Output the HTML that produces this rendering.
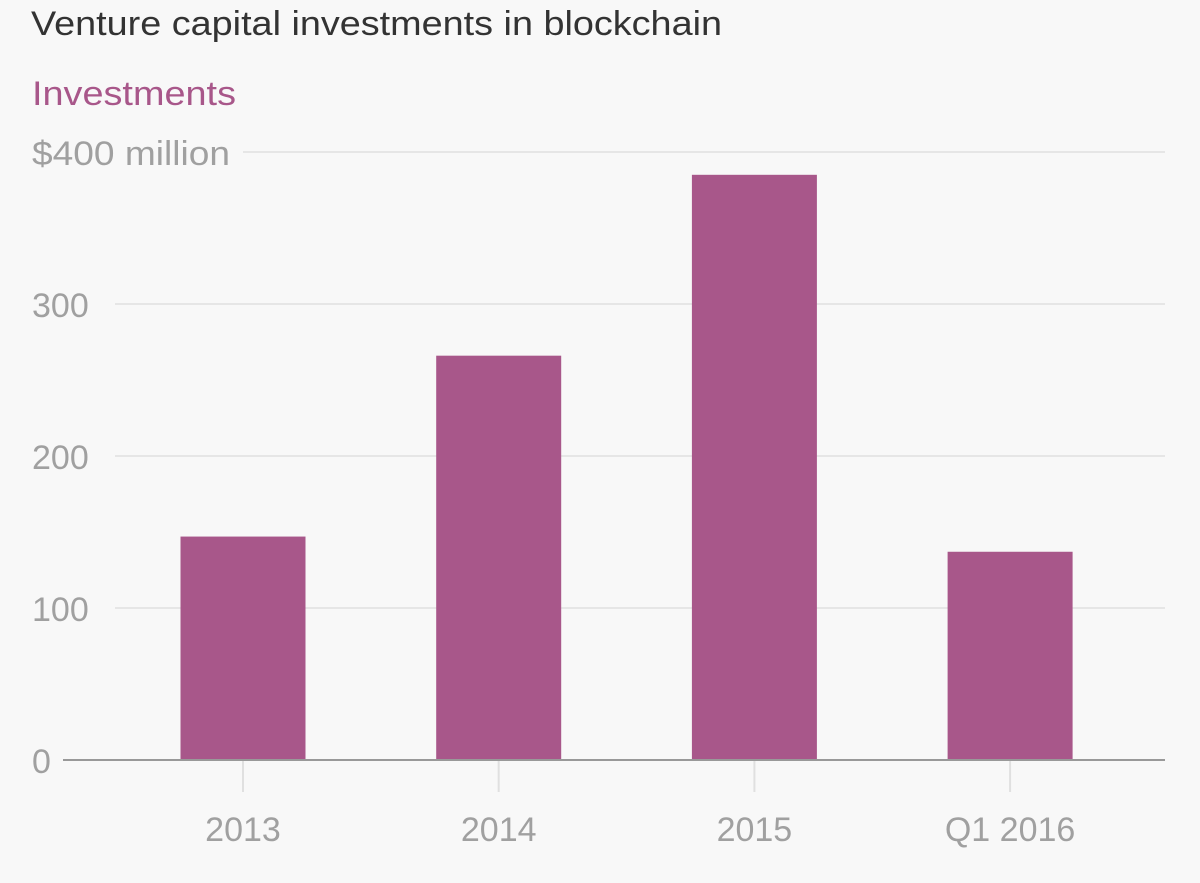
<!DOCTYPE html>
<html><head><meta charset="utf-8"><style>
html,body{margin:0;padding:0;background:#f8f8f8;}
svg{display:block;font-family:"Liberation Sans",sans-serif;}
</style></head><body>
<svg id="chart" width="1200" height="883" viewBox="0 0 1200 883">
<rect x="0" y="0" width="1200" height="883" fill="#f8f8f8"/>
<text x="31" y="35" font-size="34" fill="#333" textLength="691" lengthAdjust="spacingAndGlyphs">Venture capital investments in blockchain</text>
<text x="32" y="105" font-size="34" fill="#a8578a" textLength="204" lengthAdjust="spacingAndGlyphs">Investments</text>
<g id="grid"></g><g id="bars"></g><g id="xaxis"></g>
</svg>
<script>
const categories = ["2013","2014","2015","Q1 2016"];
const values = [147, 266, 385, 137];
const yTicks = [0,100,200,300,400];
const yTickLabels = ["0","100","200","300","$400 million"];
const NS="http://www.w3.org/2000/svg";
const y0=760, pxPer=1.52;
function yScale(v){return y0 - v*pxPer;}
function xCenter(i){return 243 + i*255.7;}
const barW=125;
function mk(tag,attrs,parent){const e=document.createElementNS(NS,tag);for(const k in attrs)e.setAttribute(k,attrs[k]);parent.appendChild(e);return e;}
const grid=document.getElementById('grid'),bars=document.getElementById('bars'),xa=document.getElementById('xaxis');
yTicks.forEach((t,i)=>{
  const y=yScale(t);
  const lbl=yTickLabels[i];
  const lw = t===0?0:(lbl.length>4?210:0);
  if(t!==0){
    const g=mk('line',{x1:(lbl.length>4?243:115),x2:1165,y1:y,y2:y,stroke:'#e6e6e6','stroke-width':2},grid);
    
    
  }
  const tx=mk('text',{x:32,y:y+13,'font-size':34,fill:'#a0a0a0'},grid);
  tx.textContent=lbl;
  if(lbl.length>4){tx.setAttribute('textLength','198');tx.setAttribute('lengthAdjust','spacingAndGlyphs');}
  
  
});
categories.forEach((c,i)=>{
  const cx=xCenter(i);
  const tk=mk('line',{x1:cx,x2:cx,y1:y0,y2:792,stroke:'#e0e0e0','stroke-width':2},xa);
  
  
  const r=mk('rect',{x:cx-barW/2,y:yScale(values[i]),width:barW,height:values[i]*pxPer,fill:'#a8578a'},bars);
  
  
  const t=mk('text',{x:cx,y:841,'font-size':34,fill:'#a0a0a0','text-anchor':'middle'},xa);
  t.textContent=c;
  
  
});
const ax=mk('line',{x1:63,x2:1165,y1:y0,y2:y0,stroke:'#999','stroke-width':2},xa);


</script>
</body></html>
